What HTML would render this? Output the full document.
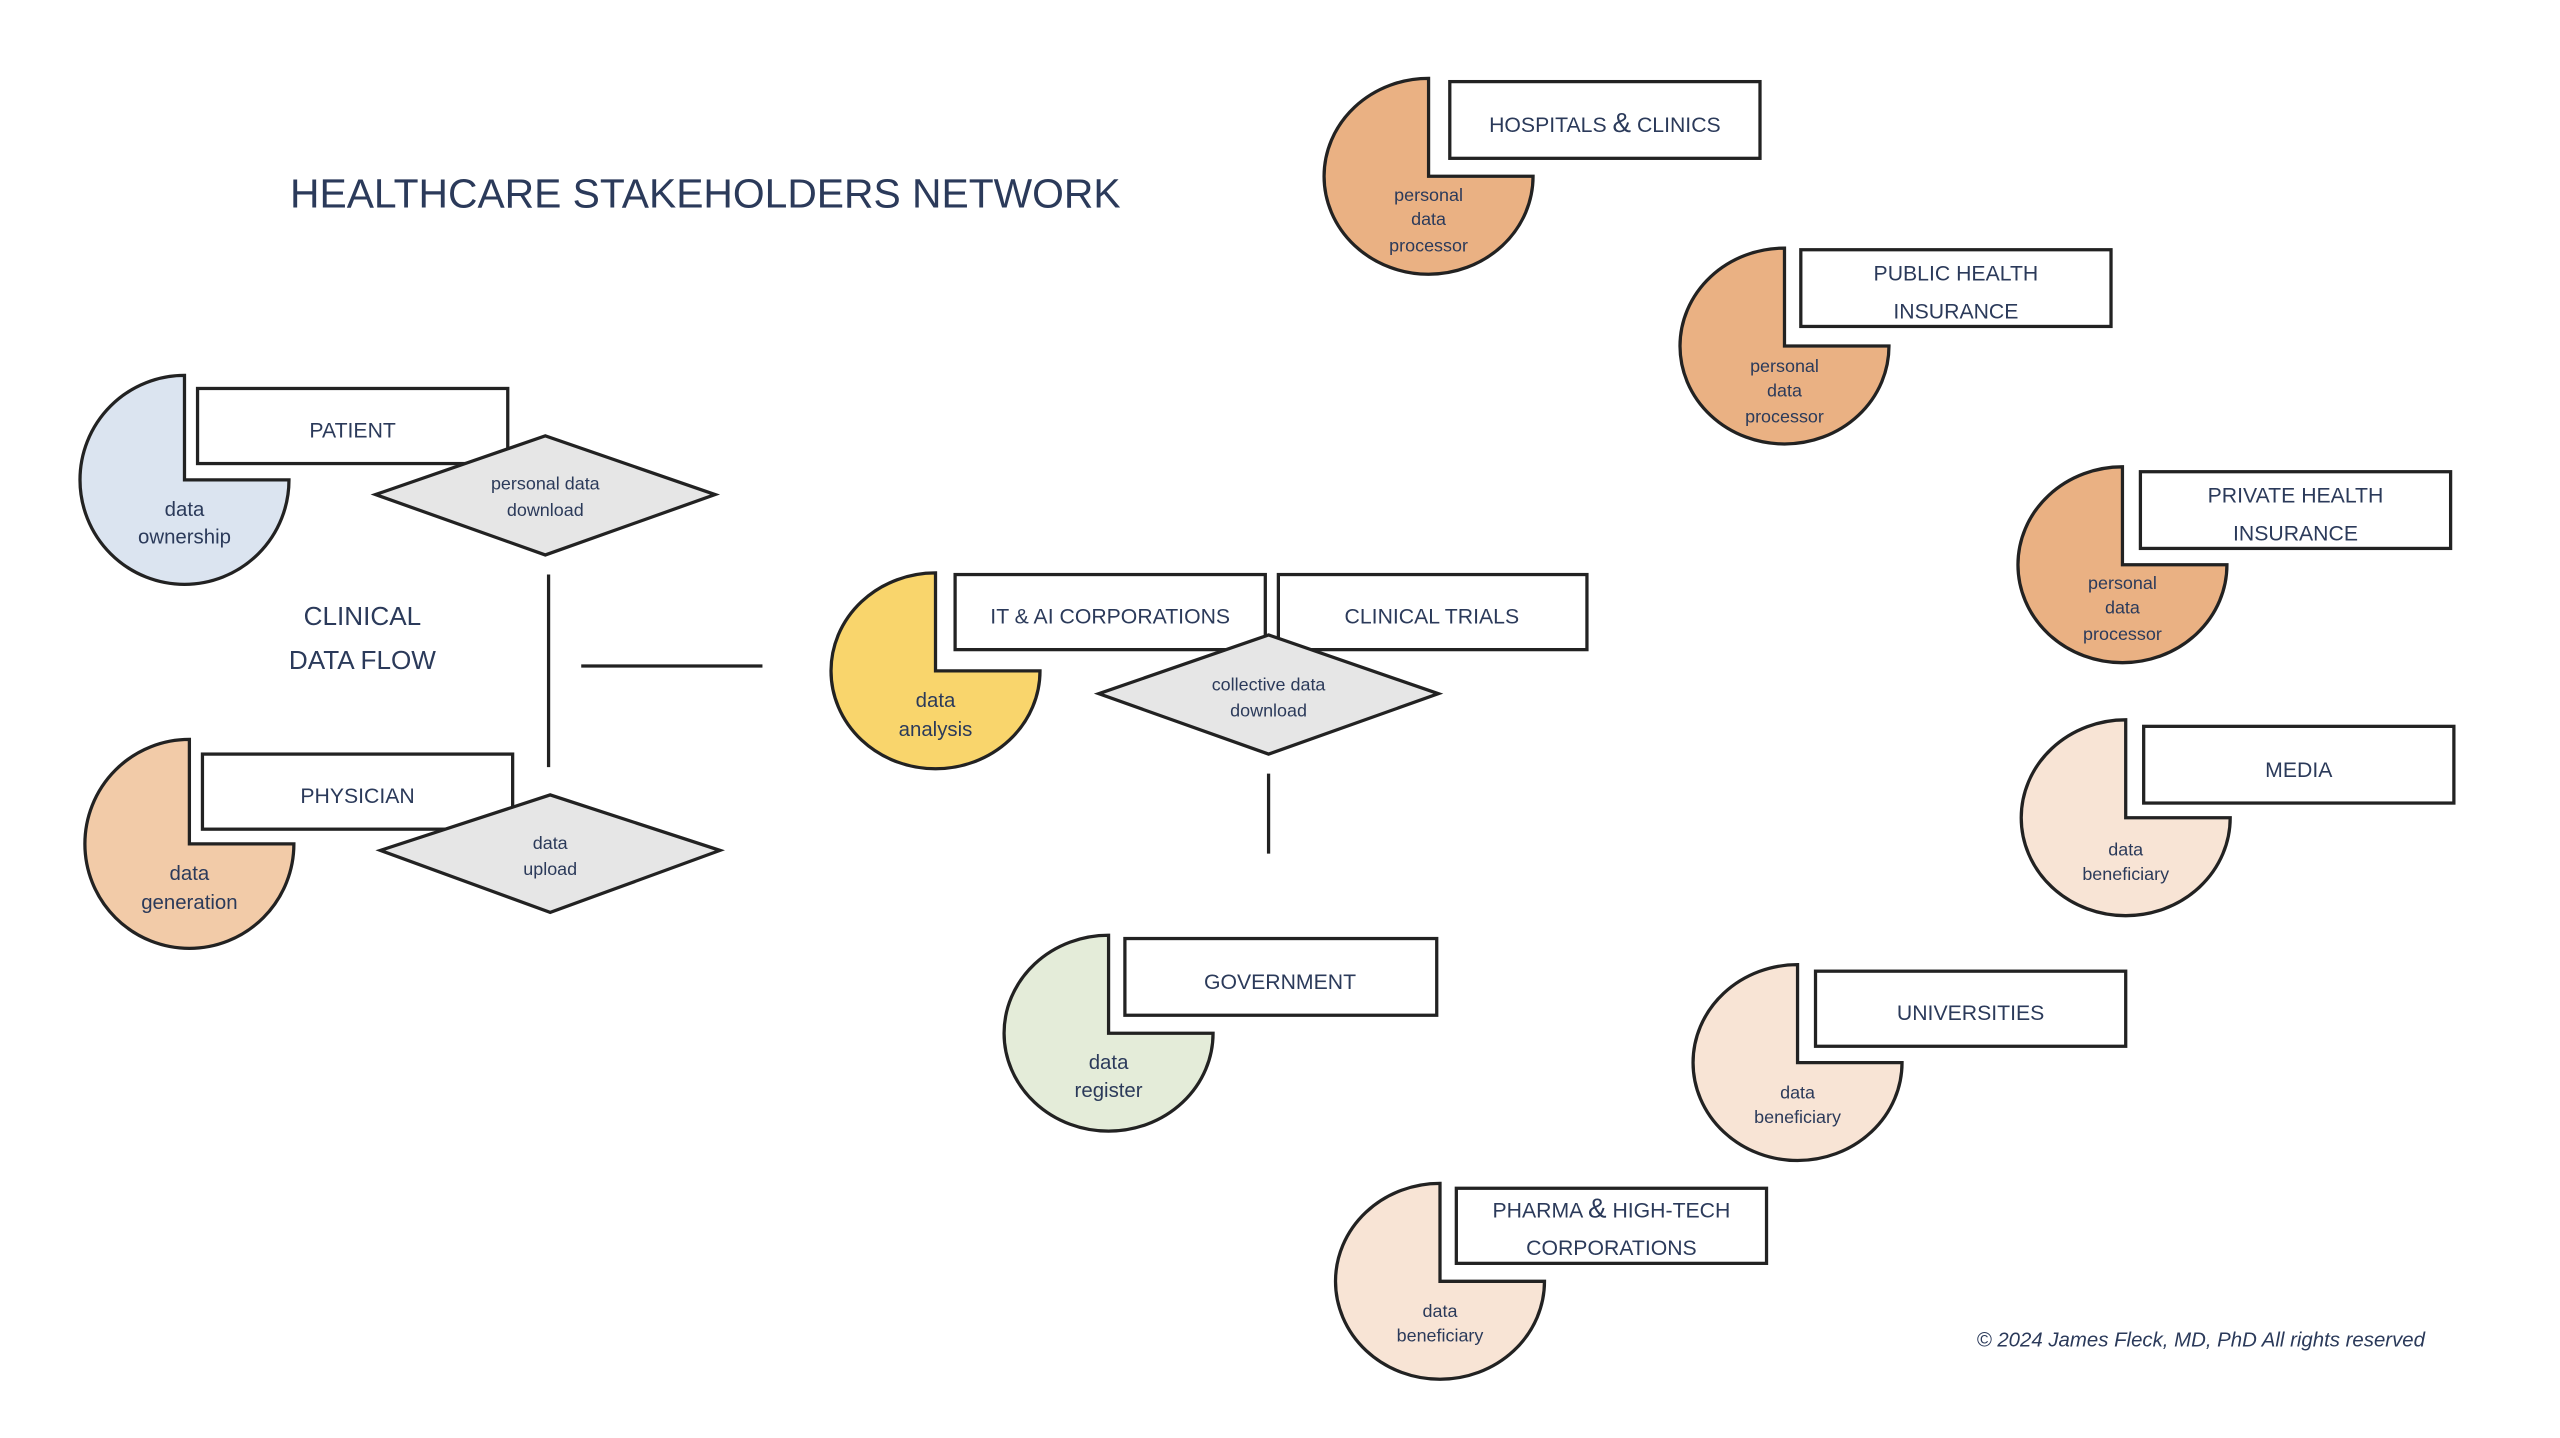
<!DOCTYPE html>
<html><head><meta charset="utf-8"><style>
html,body{margin:0;padding:0;background:#fff;}
svg{display:block;}
text{font-family:"Liberation Sans",sans-serif;fill:#2b3a5a;text-anchor:middle;}
.b{font-size:13px;}
.p{font-size:11px;}
.s{font-size:12.5px;}
</style></head><body>
<svg width="2560" height="1438" viewBox="0 0 1568 881" preserveAspectRatio="none" xmlns="http://www.w3.org/2000/svg">
<g stroke="#222" stroke-width="2">
<path d="M113,230 A64,64 0 1 0 177,294 L113,294 Z" fill="#dbe4f0"/>
<path d="M116,453 A64,64 0 1 0 180,517 L116,517 Z" fill="#f2cba8"/>
<path d="M573,351 A64,60 0 1 0 637,411 L573,411 Z" fill="#f9d56c"/>
<path d="M679,573 A64,60 0 1 0 743,633 L679,633 Z" fill="#e4ecd9"/>
<path d="M875,48 A64,60 0 1 0 939,108 L875,108 Z" fill="#eab183"/>
<path d="M1093,152 A64,60 0 1 0 1157,212 L1093,212 Z" fill="#eab183"/>
<path d="M1300,286 A64,60 0 1 0 1364,346 L1300,346 Z" fill="#eab183"/>
<path d="M1302,441 A64,60 0 1 0 1366,501 L1302,501 Z" fill="#f8e4d5"/>
<path d="M1101,591 A64,60 0 1 0 1165,651 L1101,651 Z" fill="#f8e4d5"/>
<path d="M882,725 A64,60 0 1 0 946,785 L882,785 Z" fill="#f8e4d5"/>
<rect x="121" y="238" width="190" height="46" fill="#fff"/>
<rect x="124" y="462" width="190" height="46" fill="#fff"/>
<rect x="585" y="352" width="190" height="46" fill="#fff"/>
<rect x="783" y="352" width="189" height="46" fill="#fff"/>
<rect x="689" y="575" width="191" height="47" fill="#fff"/>
<rect x="888" y="50" width="190" height="47" fill="#fff"/>
<rect x="1103" y="153" width="190" height="47" fill="#fff"/>
<rect x="1311" y="289" width="190" height="47" fill="#fff"/>
<rect x="1313" y="445" width="190" height="47" fill="#fff"/>
<rect x="1112" y="595" width="190" height="46" fill="#fff"/>
<rect x="892" y="728" width="190" height="46" fill="#fff"/>
<polygon points="230,303 334,267 438,303 334,340" fill="#e6e6e6"/>
<polygon points="233,521 337,487 441,521 337,559" fill="#e6e6e6"/>
<polygon points="673,425 777,389 881,425 777,462" fill="#e6e6e6"/>
<line x1="336" y1="352" x2="336" y2="470"/>
<line x1="356" y1="408" x2="467" y2="408"/>
<line x1="777" y1="474" x2="777" y2="523"/>
</g>
<text x="432" y="127" style="font-size:25px">HEALTHCARE STAKEHOLDERS NETWORK</text>
<text x="222" y="383" style="font-size:16px">CLINICAL</text>
<text x="222" y="410" style="font-size:16px">DATA FLOW</text>

<text class="b" x="216" y="268">PATIENT</text>
<text class="p" x="334" y="300">personal data</text>
<text class="p" x="334" y="316">download</text>
<text class="s" x="113" y="316">data</text>
<text class="s" x="113" y="333">ownership</text>

<text class="b" x="219" y="492">PHYSICIAN</text>
<text class="p" x="337" y="520">data</text>
<text class="p" x="337" y="536">upload</text>
<text class="s" x="116" y="539">data</text>
<text class="s" x="116" y="557">generation</text>

<text class="b" x="680" y="382">IT &amp; AI CORPORATIONS</text>
<text class="b" x="877" y="382">CLINICAL TRIALS</text>
<text class="p" x="777" y="423">collective data</text>
<text class="p" x="777" y="439">download</text>
<text class="s" x="573" y="433">data</text>
<text class="s" x="573" y="451">analysis</text>

<text class="b" x="784" y="606">GOVERNMENT</text>
<text class="s" x="679" y="655">data</text>
<text class="s" x="679" y="672">register</text>

<text class="b" x="983" y="81">HOSPITALS <tspan style="font-size:17px">&amp;</tspan> CLINICS</text>
<text class="p" x="875" y="123">personal</text>
<text class="p" x="875" y="138">data</text>
<text class="p" x="875" y="154">processor</text>

<text class="b" x="1198" y="172">PUBLIC HEALTH</text>
<text class="b" x="1198" y="195">INSURANCE</text>
<text class="p" x="1093" y="228">personal</text>
<text class="p" x="1093" y="243">data</text>
<text class="p" x="1093" y="259">processor</text>

<text class="b" x="1406" y="308">PRIVATE HEALTH</text>
<text class="b" x="1406" y="331">INSURANCE</text>
<text class="p" x="1300" y="361">personal</text>
<text class="p" x="1300" y="376">data</text>
<text class="p" x="1300" y="392">processor</text>

<text class="b" x="1408" y="476">MEDIA</text>
<text class="p" x="1302" y="524">data</text>
<text class="p" x="1302" y="539">beneficiary</text>

<text class="b" x="1207" y="625">UNIVERSITIES</text>
<text class="p" x="1101" y="673">data</text>
<text class="p" x="1101" y="688">beneficiary</text>

<text class="b" x="987" y="746">PHARMA <tspan style="font-size:17px">&amp;</tspan> HIGH-TECH</text>
<text class="b" x="987" y="769">CORPORATIONS</text>
<text class="p" x="882" y="807">data</text>
<text class="p" x="882" y="822">beneficiary</text>

<text x="1348" y="825" style="font-size:12.5px;font-style:italic">© 2024 James Fleck, MD, PhD  All rights reserved</text>
</svg>
</body></html>
